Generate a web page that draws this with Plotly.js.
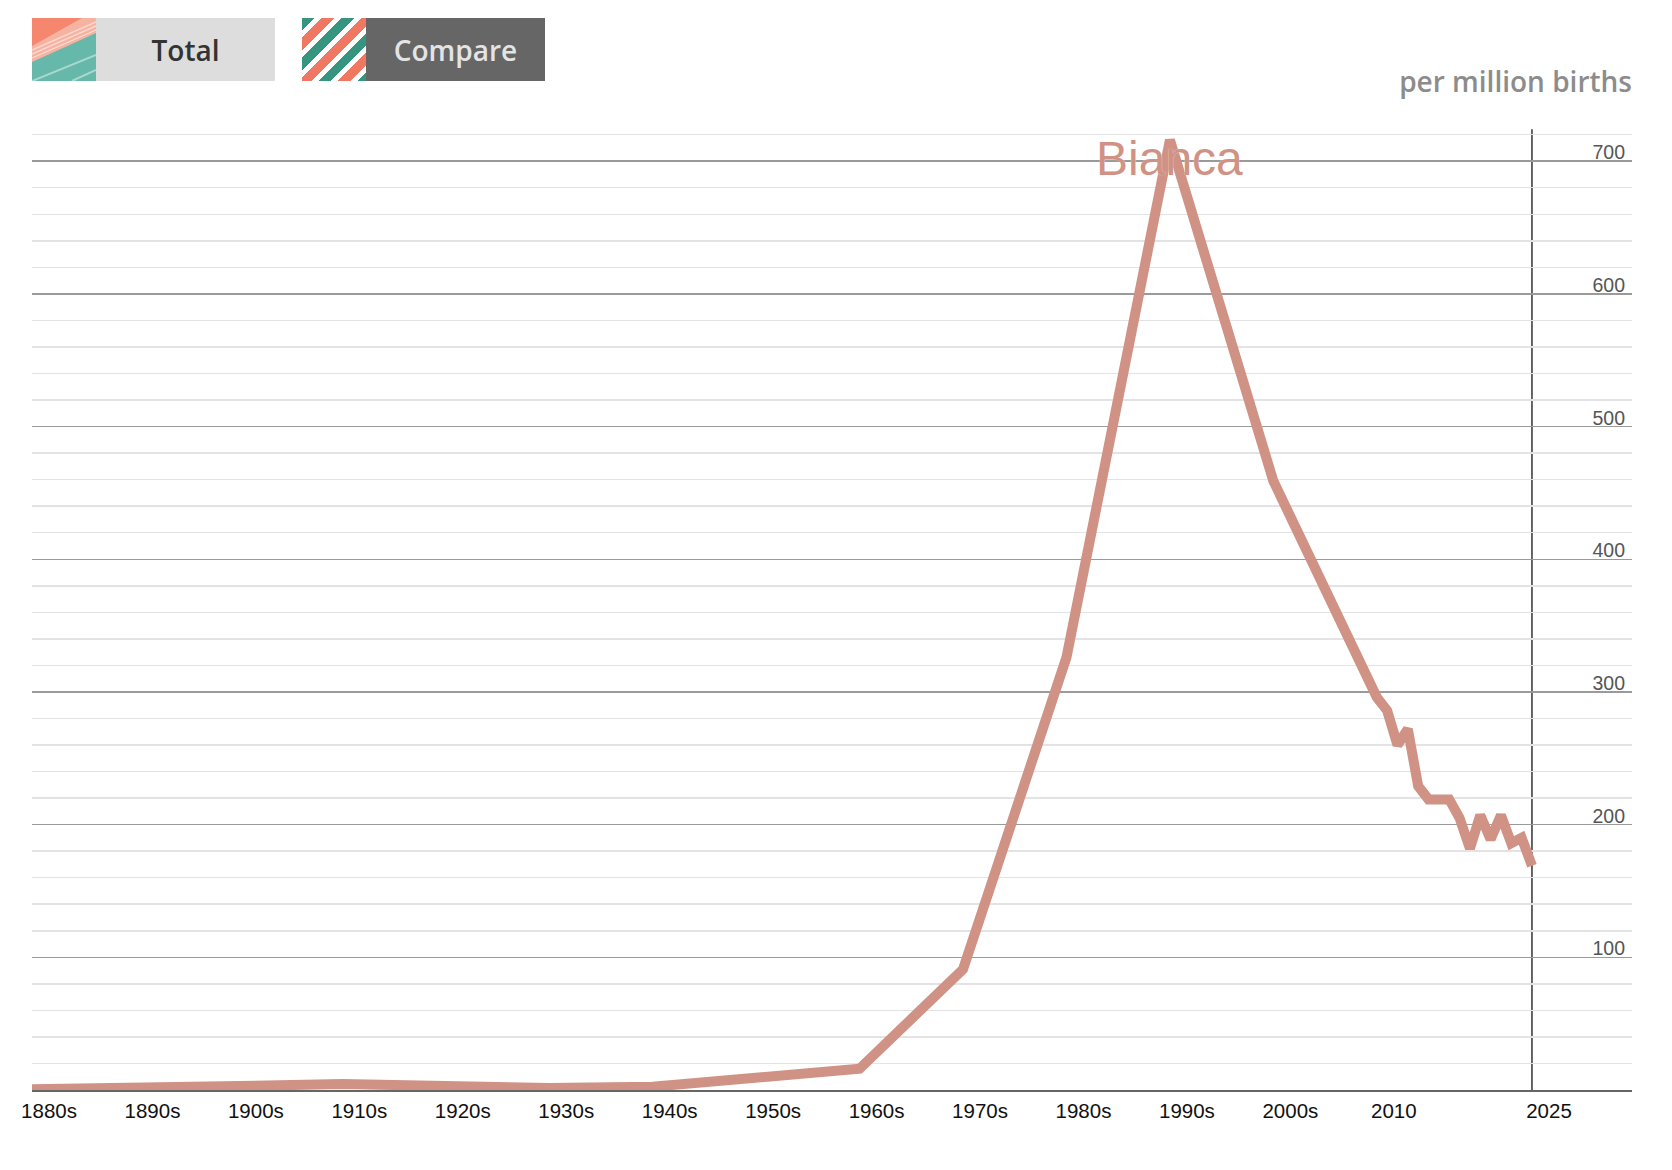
<!DOCTYPE html>
<html>
<head>
<meta charset="utf-8">
<script src="https://cdn.plot.ly/plotly-3.0.1.min.js"></script>
<style>
  html, body { margin: 0; padding: 0; background: #fff; }
  #page { position: relative; width: 1672px; height: 1170px; overflow: hidden; }
  #chart { position: absolute; left: 0; top: 0; width: 1672px; height: 1170px; }
  .btn {
    position: absolute; top: 18px; height: 63px; width: 243px;
    display: flex; font-family: "Open Sans", sans-serif; font-weight: 600; font-size: 28px;
  }
  .btn .icon { width: 64px; height: 63px; flex: none; }
  .btn .label { flex: 1; display: flex; align-items: center; justify-content: center; }
  #btn-total { left: 32px; }
  #btn-total .label { background: #dddddd; color: #333; }
  #btn-compare { left: 302px; }
  #btn-compare .label { background: #666666; color: #e4e4e4; }
  #btn-compare .icon {
    background: repeating-linear-gradient(135deg,
      #36957f 0 9px, #fff 9px 14px, #f07762 14px 23px, #fff 23px 28px);
  }
  #unit {
    position: absolute; right: 40px; top: 63px; font-family: "Open Sans", sans-serif;
    font-weight: 600; font-size: 28px; line-height: 36px; color: #8c8c8c;
  }
</style>
</head>
<body>
<div id="page">
  <div id="chart"></div>
  <div class="btn" id="btn-total">
    <svg class="icon" viewBox="0 0 64 63" width="64" height="63">
      <rect x="0" y="0" width="64" height="63" fill="#66b8aa"/>
      <polygon points="0,0 64,0 64,15 0,44" fill="#f6b3a2"/>
      <polygon points="0,0 50,0 0,28" fill="#f4876d"/>
      <polyline points="0,32 64,4" stroke="#fbd8cf" stroke-width="1.5" fill="none"/>
      <polyline points="0,36 64,8" stroke="#fbd8cf" stroke-width="1.5" fill="none"/>
      <polyline points="0,40 64,12" stroke="#fde6df" stroke-width="1" fill="none"/>
      <polyline points="0,63 64,37" stroke="#a9d8cf" stroke-width="2" fill="none"/>
      <polyline points="40,63 64,52" stroke="#a9d8cf" stroke-width="2" fill="none"/>
    </svg>
    <div class="label">Total</div>
  </div>
  <div class="btn" id="btn-compare">
    <div class="icon"></div>
    <div class="label">Compare</div>
  </div>
  <div id="unit">per million births</div>
</div>
<script>
// Bianca, babies per million births: decade values up to the 2000s, then yearly
var years = [1880, 1890, 1900, 1910, 1920, 1930, 1940, 1950, 1960, 1970, 1980, 1990, 2000,
  2010, 2011, 2012, 2013, 2014, 2015, 2016, 2017, 2018, 2019, 2020, 2021, 2022, 2023, 2024, 2025];
var perMillion = [0.5, 1, 3, 4.5, 3.5, 1.5, 2.5, 9, 16, 91, 326, 716, 459,
  296, 286, 260, 272, 229, 219, 219, 219, 205, 182, 207, 189, 207, 186, 190, 169];

var nameLabel = 'Bianca';
var lineColor = '#d09284';

var xTickVals = [1880, 1890, 1900, 1910, 1920, 1930, 1940, 1950, 1960, 1970, 1980, 1990, 2000, 2010, 2025];
var xTickText = ['1880s', '1890s', '1900s', '1910s', '1920s', '1930s', '1940s', '1950s', '1960s',
  '1970s', '1980s', '1990s', '2000s', '2010', '2025'];
var yTickVals = [100, 200, 300, 400, 500, 600, 700];
var currentYear = 2025;

function buildTraces() {
  return [{
    x: years,
    y: perMillion,
    mode: 'lines',
    type: 'scatter',
    line: { color: lineColor, width: 10 },
    hoverinfo: 'skip',
    showlegend: false,
  }];
}

function buildLayout() {
  var peak = Math.max.apply(null, perMillion);
  var peakYear = years[perMillion.indexOf(peak)];

  return {
    width: 1672,
    height: 1170,
    margin: { l: 32, r: 40, t: 132, b: 80 },
    paper_bgcolor: 'rgba(0,0,0,0)',
    plot_bgcolor: 'rgba(0,0,0,0)',
    showlegend: false,
    xaxis: {
      range: [1880, 2034.67],
      tickmode: 'array',
      tickvals: xTickVals,
      ticktext: xTickText,
      ticks: '',
      showgrid: false,
      zeroline: false,
      showline: true,
      linecolor: '#666',
      linewidth: 1.5,
      ticklabelshift: 17,
      ticklabelstandoff: 2,
      tickfont: { family: 'Arial, Liberation Sans, sans-serif', size: 20.5, color: '#111' },
    },
    yaxis: {
      range: [0, 722],
      side: 'right',
      tickmode: 'array',
      tickvals: yTickVals,
      ticks: '',
      ticklabelposition: 'inside top',
      ticklabelshift: 5,
      ticklabelstandoff: 4,
      showgrid: true,
      gridcolor: '#9a9a9a',
      gridwidth: 1.5,
      zeroline: false,
      showline: false,
      minor: { tickmode: 'linear', tick0: 0, dtick: 20, showgrid: true, gridcolor: '#e3e3e3', gridwidth: 1.5, ticks: '' },
      tickfont: { family: 'Arial, Liberation Sans, sans-serif', size: 19.5, color: '#555' },
    },
    shapes: [{
      type: 'line',
      xref: 'x', yref: 'paper',
      x0: currentYear, x1: currentYear, y0: 0, y1: 1.003,
      line: { color: '#000', width: 1.2 },
      layer: 'below',
    }],
    annotations: [{
      text: nameLabel,
      x: peakYear,
      y: peak - 14,
      xref: 'x', yref: 'y',
      xanchor: 'center', yanchor: 'middle',
      showarrow: false,
      font: { family: 'Arial, Liberation Sans, sans-serif', size: 48, color: lineColor, shadow: '0px 0px 1px rgba(255,255,255,0.8)' },
    }],
  };
}

Plotly.newPlot('chart', buildTraces(), buildLayout(), { displayModeBar: false, staticPlot: true });
</script>
</body>
</html>
